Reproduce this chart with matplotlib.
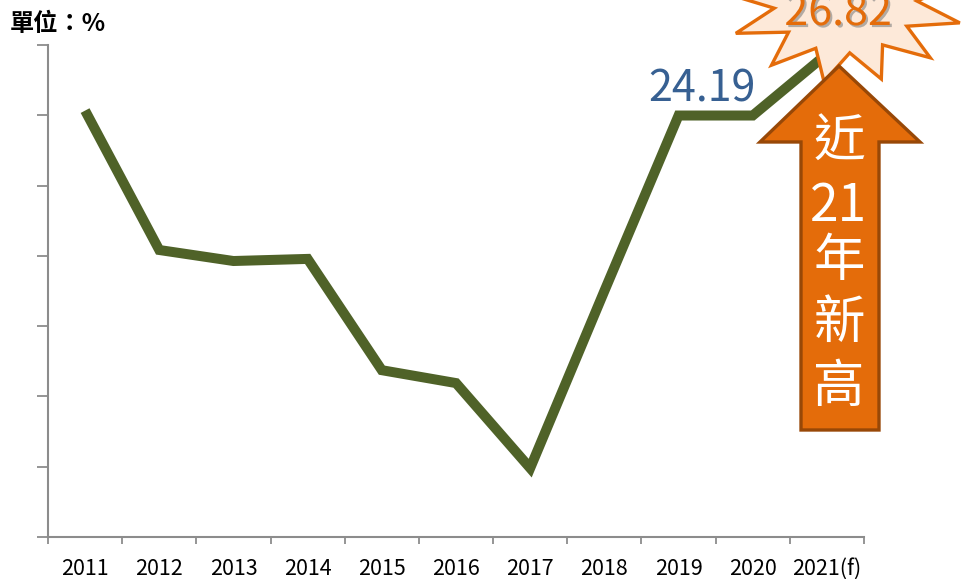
import numpy as np
import matplotlib
matplotlib.use("Agg")
import matplotlib.pyplot as plt
import matplotlib.patheffects as pe
from matplotlib.patches import Polygon

plt.rcParams['font.family'] = ['Noto Sans CJK TC', 'DejaVu Sans']

# ============ data ============
years = ["2011", "2012", "2013", "2014", "2015", "2016", "2017", "2018", "2019", "2020", "2021(f)"]
values = [24.40, 18.45, 17.98, 18.07, 13.32, 12.77, 9.14, 16.70, 24.19, 24.19, 26.82]
label_2019 = "24.19"
label_2021 = "26.82"
arrow_text = ["近", "21", "年", "新", "高"]
unit_text = "單位：%"

W, H = 963, 579
fig = plt.figure(figsize=(W / 100, H / 100), dpi=100)
ax = fig.add_axes([48 / W, (H - 537) / H, (864 - 48) / W, (537 - 45) / H])

x = np.arange(len(years))
line_color = "#4F6228"
ax.plot(x, values, color=line_color, lw=7.2, solid_joinstyle="miter",
        solid_capstyle="butt", zorder=3)

ax.set_xlim(-0.5, len(years) - 0.5)
ax.set_ylim(6.2, 27.2)
ax.set_yticks(np.arange(6.2, 27.3, 3))
ax.set_yticklabels([])
ax.set_xticks(np.arange(-0.5, len(years), 1))
ax.set_xticklabels([])
ax.set_xticks(x, minor=True)
ax.set_xticklabels(years, minor=True, fontsize=15.5)
ax.tick_params(axis="x", which="minor", length=0, pad=15)
ax.tick_params(axis="x", which="major", length=5, width=1.3, color="#8c8c8c")
ax.tick_params(axis="y", length=8, width=1.3, color="#8c8c8c")
for s in ["top", "right"]:
    ax.spines[s].set_visible(False)
for s in ["left", "bottom"]:
    ax.spines[s].set_color("#8c8c8c")
    ax.spines[s].set_linewidth(1.5)


def px(xi, yi):
    # image pixel (y down) -> display coords
    return (xi, H - yi)


# label for 2019
fig.text(702 / W, (H - 102) / H, label_2019, color="#376092", fontsize=31,
         ha="center", va="baseline", zorder=5)

# starburst behind 26.82
cx, cy = 845, -2
n = 13
pts = []
for k in range(2 * n):
    a = np.deg2rad(17 + k * 360 / n / 2)
    if k % 2 == 0:
        rx, ry = 120, 85
    else:
        rx, ry = 72, 55
    pts.append(px(cx + rx * np.cos(a), cy + ry * np.sin(a)))
star = Polygon(pts, closed=True, transform=None, facecolor="#FDE9D9",
               edgecolor="#E46C0A", lw=2.4, joinstyle="miter", zorder=6)
fig.patches.append(star)

fig.text(838 / W, (H - 25) / H, label_2021, color="#E46C0A", fontsize=31,
         ha="center", va="baseline", zorder=7,
         path_effects=[pe.SimplePatchShadow(offset=(1.5, -1.5), shadow_rgbFace="#808080", alpha=0.6),
                       pe.Normal()])

# up arrow
arrow_pts = [px(839, 66), px(920, 142), px(879, 142), px(879, 430),
             px(801, 430), px(801, 142), px(760, 142)]
arrow = Polygon(arrow_pts, closed=True, transform=None, facecolor="#E46C0A",
                edgecolor="#984807", lw=2.4, joinstyle="miter", zorder=8)
fig.patches.append(arrow)

text_y = [141, 206, 261, 323, 387]
for t, yy in zip(arrow_text, text_y):
    fig.text(839 / W, (H - yy) / H, t, color="white", fontsize=37,
             ha="center", va="center", zorder=9)

fig.text(10 / W, (H - 31) / H, unit_text, fontsize=17.5, fontweight="bold",
         ha="left", va="baseline")

fig.savefig("out.png", dpi=100)
